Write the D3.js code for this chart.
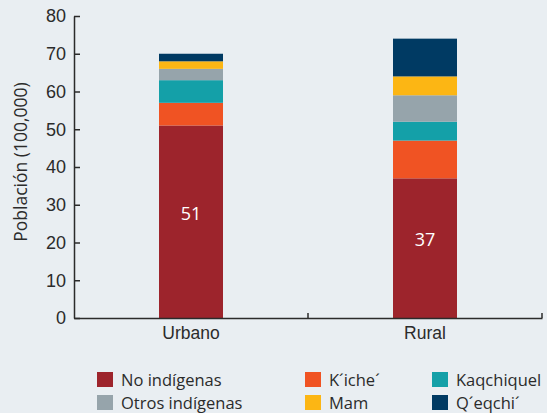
<!doctype html>
<html>
<head>
<meta charset="utf-8">
<script src="https://d3js.org/d3.v7.min.js"></script>
<style>
  body { margin: 0; background: #e9eef2; }
  svg { display: block; font-family: "Open Sans", "Noto Sans", sans-serif; }
</style>
</head>
<body>
<div id="chart"></div>
<script>
// categories and series (population, 100,000)
var categories = ["Urbano", "Rural"];
var groups = ["No indígenas", "K´iche´", "Kaqchiquel", "Otros indígenas", "Mam", "Q´eqchi´"];
var noIndigenas = [51, 37];
var kiche = [6, 10];
var kaqchiquel = [6, 5];
var otros = [3, 7];
var mam = [2, 5];
var qeqchi = [2, 10];
var yTicks = [0, 10, 20, 30, 40, 50, 60, 70, 80];

var colors = ["#9d242c", "#f05323", "#14a0a8", "#96a4ab", "#fcb614", "#003a63"];
var seriesVals = [noIndigenas, kiche, kaqchiquel, otros, mam, qeqchi];

var rows = categories.map(function(c, i) {
  var r = { cat: c };
  groups.forEach(function(g, j) { r[g] = seriesVals[j][i]; });
  return r;
});

var width = 547, height = 413;
var margin = { top: 16, right: 5, bottom: 95, left: 74 };

var svg = d3.select("#chart").append("svg")
  .attr("width", width).attr("height", height);

var x = d3.scaleBand().domain(categories)
  .range([margin.left, 542]).paddingInner(0).paddingOuter(0);
var y = d3.scaleLinear().domain([0, 80]).range([318, margin.top]);

var stack = d3.stack().keys(groups)(rows);
var barW = 64;

svg.append("g").selectAll("g").data(stack).join("g")
  .attr("fill", function(d, i) { return colors[i]; })
  .selectAll("rect").data(function(d) { return d; }).join("rect")
  .attr("x", function(d) { return x(d.data.cat) + x.bandwidth() / 2 - barW / 2; })
  .attr("width", barW)
  .attr("y", function(d) { return y(d[1]); })
  .attr("height", function(d) { return y(d[0]) - y(d[1]); });

// value labels in the bottom segment
svg.append("g").selectAll("text").data(rows).join("text")
  .attr("x", function(d) { return x(d.cat) + x.bandwidth() / 2; })
  .attr("y", function(d) { return y(d[groups[0]] / 2) - 8; })
  .attr("text-anchor", "middle")
  .attr("dy", "0.35em")
  .attr("fill", "#fff")
  .style("font-size", "18px")
  .text(function(d) { return d[groups[0]]; });

// y axis
var yAxis = svg.append("g").attr("transform", "translate(" + margin.left + ",0)")
  .call(d3.axisLeft(y).tickValues(yTicks).tickSizeInner(-6).tickSizeOuter(0).tickPadding(8));
yAxis.selectAll("text").style("font-size", "18px").attr("fill", "#2b2b2b");

// x axis
var xAxis = svg.append("g").attr("transform", "translate(0,318)")
  .call(d3.axisBottom(x).tickSize(0).tickPadding(9));
xAxis.selectAll("text").style("font-size", "17.5px").attr("fill", "#2b2b2b");
xAxis.append("g").selectAll("line").data(categories).join("line")
  .attr("x1", function(d) { return x(d) + x.bandwidth(); })
  .attr("x2", function(d) { return x(d) + x.bandwidth(); })
  .attr("y1", 0).attr("y2", -5);

svg.selectAll(".domain, .tick line, g line").attr("stroke", "#2b2b2b").attr("stroke-width", 1.5);

// y label
svg.append("text")
  .attr("transform", "translate(27,162) rotate(-90)")
  .attr("text-anchor", "middle")
  .attr("fill", "#2b2b2b")
  .style("font-size", "17.5px")
  .text("Población (100,000)");

// legend
var legX = [97, 305, 432];
var legendOrder = [0, 1, 2, 3, 4, 5];
var legend = svg.append("g").selectAll("g").data(legendOrder).join("g")
  .attr("transform", function(d, i) {
    return "translate(" + legX[i % 3] + "," + (372 + Math.floor(i / 3) * 23) + ")";
  });
legend.append("rect").attr("width", 16).attr("height", 15)
  .attr("fill", function(d) { return colors[d]; });
legend.append("text").attr("x", 24).attr("y", 14)
  .attr("fill", "#2b2b2b").style("font-size", "16.5px")
  .text(function(d) { return groups[d]; });
</script>
</body>
</html>
